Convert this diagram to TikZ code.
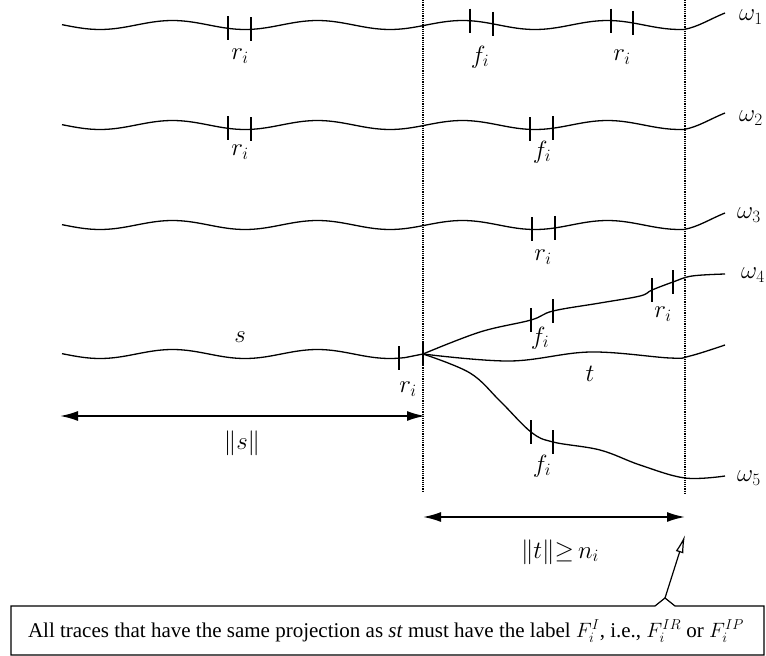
\documentclass[tikz,border=0pt]{standalone}
\usepackage{amsmath,amssymb}
\usepackage{fontspec}
\setmainfont{Liberation Serif}
\usetikzlibrary{arrows.meta}
\newcommand\trwave[2]{#1+4.5*cos(((#2)-100)/145*360)}

\begin{document}
\begin{tikzpicture}[x=1pt, y=-1pt, every node/.style={font=\fontsize{25}{29}\selectfont}, trace/.style={line width=1.3pt, line join=round}, tk/.style={line width=1.3pt}, guide/.style={densely dotted, line width=1.2pt}, span/.style={line width=1.8pt, {Latex[length=18pt,width=10pt]}-{Latex[length=18pt,width=10pt]}}]
	\useasboundingbox (0,0) rectangle (766,656);
	\coordinate (branch) at (423,354);
	\coordinate (sl) at (60,416);
	\coordinate (sr) at (425,416);
	\coordinate (tl) at (423,517);
	\coordinate (tr) at (685,517);
	\coordinate (notch) at (665,598);
	\coordinate (tip) at (685,535);
	\draw[guide] (423,0) -- (423,492);
	\draw[guide] (685,0) -- (685,495);
	\foreach \b/\n in {25/1, 125/2, 225/3} {\draw[trace] plot[domain=62:684, samples=90, smooth] (\x,{\trwave{\b}{\x}}) .. controls (698,{\b+2}) and (710,{\b-6}) .. (725,{\b-12});}
	\draw[trace] plot[domain=62:405, samples=60, smooth] (\x,{\trwave{354}{\x}}) -- (branch);
	\draw[trace] plot[smooth, tension=0.6] coordinates {(branch) (480,332) (531,320) (553,311) (600,303) (640,296) (652,290) (673,282) (692,276) (725,274)};
	\draw[trace] plot[smooth, tension=0.6] coordinates {(branch) (510,361) (590,352) (670,358) (690,356) (725,345)};
	\draw[trace] plot[smooth, tension=0.6] coordinates {(branch) (470,373) (500,401) (531,432) (553,442) (600,450) (640,465) (685,478) (725,476)};
	\foreach \b/\t in {25/228, 25/251, 25/470, 25/493, 25/611, 25/633, 125/228, 125/251, 125/530, 125/553, 225/532, 225/555} {\draw[tk] (\t,{\trwave{\b}{\t}-12}) -- (\t,{\trwave{\b}{\t}+12});}
	\foreach \t/\c in {531/320, 553/311, 652/290, 673/282, 531/432, 553/442, 399/358, 423/354} {\draw[tk] (\t,{\c-12}) -- (\t,{\c+12});}
	\node (w1) at (751,17) {$\omega_1$};
	\node (w2) at (751,118) {$\omega_2$};
	\node (w3) at (749,215) {$\omega_3$};
	\node (w4) at (753,275) {$\omega_4$};
	\node (w5) at (749,478) {$\omega_5$};
	\node (r11) at (240,56) {$r_i$};
	\node (f12) at (480,57) {$f_i$};
	\node (r13) at (622,57) {$r_i$};
	\node (r21) at (240,152) {$r_i$};
	\node (f22) at (542,152) {$f_i$};
	\node (r31) at (543,257) {$r_i$};
	\node (f41) at (540,338) {$f_i$};
	\node (r42) at (663,314) {$r_i$};
	\node (f51) at (542,466) {$f_i$};
	\node (slab) at (240,337) {$s$};
	\node (rb) at (408,389) {$r_i$};
	\node (tlab) at (590,374) {$t$};
	\draw[span] (sl) -- (sr);
	\draw[span] (tl) -- (tr);
	\node (snorm) at (242,443) {$\|s\|$};
	\node (tnorm) at (560,552) {$\|t\|{\geq}\,n_i$};
	\draw[line width=1.2pt] (11,606) -- (655,606) -- (notch) -- (675,606) -- (764,606) -- (764,655) -- (11,655) -- cycle;
	\draw[line width=1.2pt, -{Latex[open, length=18pt, width=8pt]}] (notch) -- (tip);
	\node[font=\fontsize{21}{25}\selectfont] (note) at (386,631) {All traces that have the same projection as \textit{st} must have the label $F_i^I$, i.e., $F_i^{IR}$ or $F_i^{IP}$};
\end{tikzpicture}
\end{document}
